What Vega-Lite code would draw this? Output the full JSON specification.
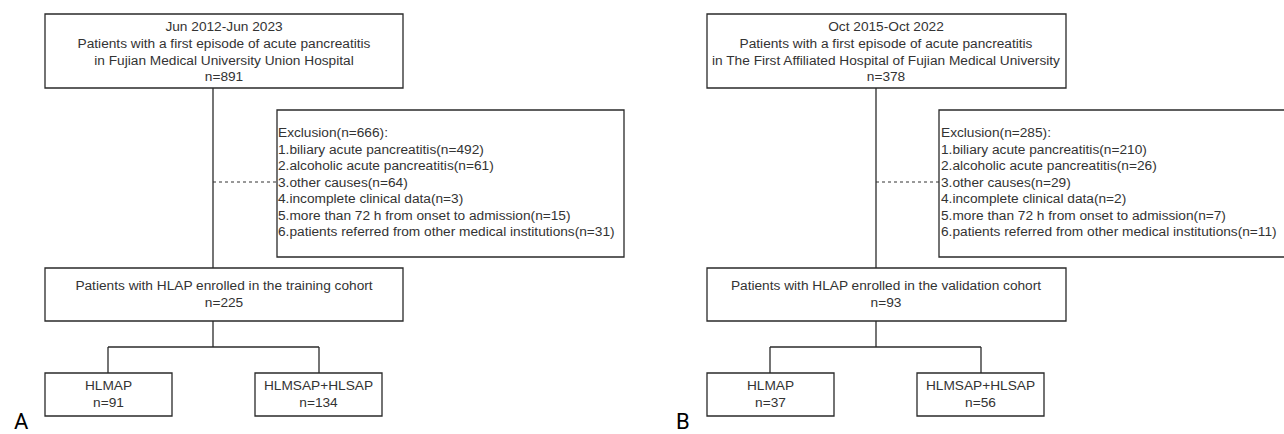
{
  "$schema": "https://vega.github.io/schema/vega-lite/v6.json",
  "width": 1284,
  "height": 434,
  "padding": 0,
  "autosize": {"type": "none"},
  "background": "#ffffff",
  "config": {"view": {"stroke": null}},
  "datasets": {
    "boxes": [
      {"x": 45, "x2": 403, "y": 14, "y2": 88},
      {"x": 277, "x2": 624, "y": 110, "y2": 257},
      {"x": 45, "x2": 403, "y": 268, "y2": 321},
      {"x": 45, "x2": 172, "y": 373, "y2": 416},
      {"x": 255, "x2": 382, "y": 373, "y2": 416},
      {"x": 707, "x2": 1066, "y": 14, "y2": 88},
      {"x": 939, "x2": 1290, "y": 110, "y2": 257},
      {"x": 707, "x2": 1066, "y": 268, "y2": 321},
      {"x": 707, "x2": 834, "y": 373, "y2": 416},
      {"x": 917, "x2": 1044, "y": 373, "y2": 416}
    ],
    "solid": [
      {"x": 213, "x2": 213, "y": 88, "y2": 268},
      {"x": 213, "x2": 213, "y": 321, "y2": 347},
      {"x": 108, "x2": 319, "y": 347, "y2": 347},
      {"x": 108, "x2": 108, "y": 347, "y2": 373},
      {"x": 319, "x2": 319, "y": 347, "y2": 373},
      {"x": 876, "x2": 876, "y": 88, "y2": 268},
      {"x": 876, "x2": 876, "y": 321, "y2": 347},
      {"x": 770, "x2": 981, "y": 347, "y2": 347},
      {"x": 770, "x2": 770, "y": 347, "y2": 373},
      {"x": 981, "x2": 981, "y": 347, "y2": 373}
    ],
    "dashed": [
      {"x": 213, "x2": 277, "y": 182, "y2": 182},
      {"x": 876, "x2": 939, "y": 182, "y2": 182}
    ],
    "ctext": [
      {"x": 224, "y": 27, "t": "Jun 2012-Jun 2023"},
      {"x": 224, "y": 44, "t": "Patients with a first episode of acute pancreatitis"},
      {"x": 224, "y": 60.5, "t": "in Fujian Medical University Union Hospital"},
      {"x": 224, "y": 77, "t": "n=891"},
      {"x": 224, "y": 286, "t": "Patients with HLAP enrolled in the training cohort"},
      {"x": 224, "y": 302.5, "t": "n=225"},
      {"x": 108.5, "y": 386, "t": "HLMAP"},
      {"x": 108.5, "y": 403, "t": "n=91"},
      {"x": 318.5, "y": 386, "t": "HLMSAP+HLSAP"},
      {"x": 318.5, "y": 403, "t": "n=134"},
      {"x": 886, "y": 27, "t": "Oct 2015-Oct 2022"},
      {"x": 886, "y": 44, "t": "Patients with a first episode of acute pancreatitis"},
      {"x": 886, "y": 60.5, "t": "in The First Affiliated Hospital of Fujian Medical University"},
      {"x": 886, "y": 77, "t": "n=378"},
      {"x": 886, "y": 286, "t": "Patients with HLAP enrolled in the validation cohort"},
      {"x": 886, "y": 302.5, "t": "n=93"},
      {"x": 770.5, "y": 386, "t": "HLMAP"},
      {"x": 770.5, "y": 403, "t": "n=37"},
      {"x": 980.5, "y": 386, "t": "HLMSAP+HLSAP"},
      {"x": 980.5, "y": 403, "t": "n=56"}
    ],
    "ltext": [
      {"x": 278, "y": 133, "t": "Exclusion(n=666):"},
      {"x": 278, "y": 149.5, "t": "1.biliary acute pancreatitis(n=492)"},
      {"x": 278, "y": 166, "t": "2.alcoholic acute pancreatitis(n=61)"},
      {"x": 278, "y": 182.5, "t": "3.other causes(n=64)"},
      {"x": 278, "y": 199, "t": "4.incomplete clinical data(n=3)"},
      {"x": 278, "y": 215.5, "t": "5.more than 72 h from onset to admission(n=15)"},
      {"x": 278, "y": 232, "t": "6.patients referred from other medical institutions(n=31)"},
      {"x": 941, "y": 133, "t": "Exclusion(n=285):"},
      {"x": 941, "y": 149.5, "t": "1.biliary acute pancreatitis(n=210)"},
      {"x": 941, "y": 166, "t": "2.alcoholic acute pancreatitis(n=26)"},
      {"x": 941, "y": 182.5, "t": "3.other causes(n=29)"},
      {"x": 941, "y": 199, "t": "4.incomplete clinical data(n=2)"},
      {"x": 941, "y": 215.5, "t": "5.more than 72 h from onset to admission(n=7)"},
      {"x": 941, "y": 232, "t": "6.patients referred from other medical institutions(n=11)"}
    ],
    "labels": [
      {"x": 14, "y": 434, "t": "A"},
      {"x": 676, "y": 434, "t": "B"}
    ]
  },
  "layer": [
    {
      "data": {"name": "boxes"},
      "mark": {"type": "rect", "fill": "#ffffff", "stroke": "#2a2a2a", "strokeWidth": 1.3, "clip": true},
      "encoding": {
        "x": {"field": "x", "type": "quantitative", "scale": {"domain": [0, 1284]}, "axis": null},
        "x2": {"field": "x2"},
        "y": {"field": "y", "type": "quantitative", "scale": {"domain": [0, 434], "reverse": true}, "axis": null},
        "y2": {"field": "y2"}
      }
    },
    {
      "data": {"name": "solid"},
      "mark": {"type": "rule", "stroke": "#2a2a2a", "strokeWidth": 1.3},
      "encoding": {
        "x": {"field": "x", "type": "quantitative", "scale": {"domain": [0, 1284]}, "axis": null},
        "x2": {"field": "x2"},
        "y": {"field": "y", "type": "quantitative", "scale": {"domain": [0, 434], "reverse": true}, "axis": null},
        "y2": {"field": "y2"}
      }
    },
    {
      "data": {"name": "dashed"},
      "mark": {"type": "rule", "stroke": "#333333", "strokeWidth": 1, "strokeDash": [3, 3]},
      "encoding": {
        "x": {"field": "x", "type": "quantitative", "scale": {"domain": [0, 1284]}, "axis": null},
        "x2": {"field": "x2"},
        "y": {"field": "y", "type": "quantitative", "scale": {"domain": [0, 434], "reverse": true}, "axis": null},
        "y2": {"field": "y2"}
      }
    },
    {
      "data": {"name": "ctext"},
      "mark": {"type": "text", "align": "center", "baseline": "middle", "font": "Liberation Sans", "fontSize": 13.7, "color": "#333333"},
      "encoding": {
        "x": {"field": "x", "type": "quantitative", "scale": {"domain": [0, 1284]}, "axis": null},
        "y": {"field": "y", "type": "quantitative", "scale": {"domain": [0, 434], "reverse": true}, "axis": null},
        "text": {"field": "t"}
      }
    },
    {
      "data": {"name": "ltext"},
      "mark": {"type": "text", "align": "left", "baseline": "middle", "font": "Liberation Sans", "fontSize": 13.7, "color": "#333333"},
      "encoding": {
        "x": {"field": "x", "type": "quantitative", "scale": {"domain": [0, 1284]}, "axis": null},
        "y": {"field": "y", "type": "quantitative", "scale": {"domain": [0, 434], "reverse": true}, "axis": null},
        "text": {"field": "t"}
      }
    },
    {
      "data": {"name": "labels"},
      "mark": {"type": "text", "align": "left", "baseline": "bottom", "font": "Roboto", "fontSize": 22, "color": "#000000"},
      "encoding": {
        "x": {"field": "x", "type": "quantitative", "scale": {"domain": [0, 1284]}, "axis": null},
        "y": {"field": "y", "type": "quantitative", "scale": {"domain": [0, 434], "reverse": true}, "axis": null},
        "text": {"field": "t"}
      }
    }
  ]
}
